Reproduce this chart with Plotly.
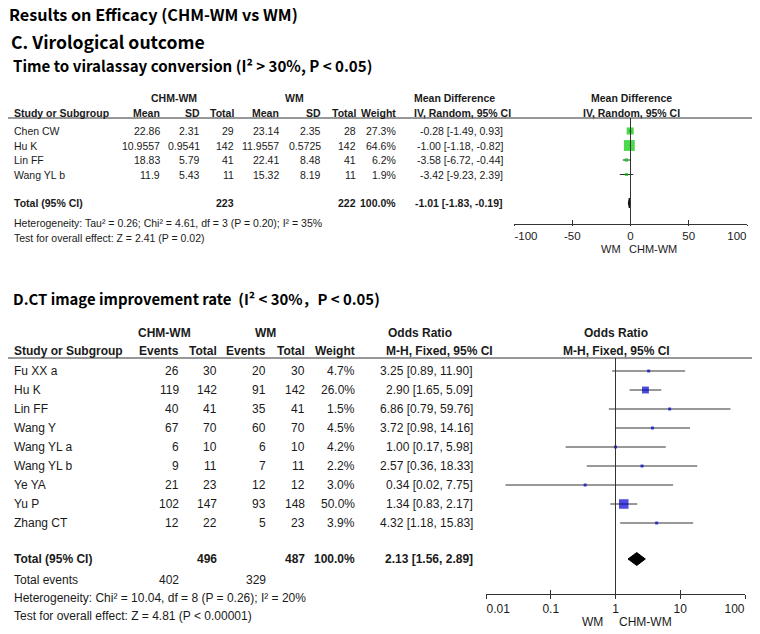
import plotly.graph_objects as go
import math

W, H = 760, 634
OFF = 8  # page body margin offset: the figure is drawn 8px right/down inside the window

# ---------------- Panel C data (Mean Difference) ----------------
c_studies = ["Chen CW", "Hu K", "Lin FF", "Wang YL b"]
c_mean_t = [22.86, 10.9557, 18.83, 11.9]
c_sd_t = [2.31, 0.9541, 5.79, 5.43]
c_n_t = [29, 142, 41, 11]
c_mean_c = [23.14, 11.9557, 22.41, 15.32]
c_sd_c = [2.35, 0.5725, 8.48, 8.19]
c_n_c = [28, 142, 41, 11]
c_weight = [27.3, 64.6, 6.2, 1.9]
c_md = [-0.28, -1.00, -3.58, -3.42]
c_lo = [-1.49, -1.18, -6.72, -9.23]
c_hi = [0.93, -0.82, -0.44, 2.39]
c_total = {"n_t": 223, "n_c": 222, "weight": 100.0, "est": -1.01, "lo": -1.83, "hi": -0.19}
c_hetero = "Heterogeneity: Tau² = 0.26; Chi² = 4.61, df = 3 (P = 0.20); I² = 35%"
c_test = "Test for overall effect: Z = 2.41 (P = 0.02)"
c_ticks = [-100, -50, 0, 50, 100]
c_ticktext = ["-100", "-50", "0", "50", "100"]

# ---------------- Panel D data (Odds Ratio) ----------------
d_studies = ["Fu XX a", "Hu K", "Lin FF", "Wang Y", "Wang YL a", "Wang YL b", "Ye YA", "Yu P", "Zhang CT"]
d_ev_t = [26, 119, 40, 67, 6, 9, 21, 102, 12]
d_n_t = [30, 142, 41, 70, 10, 11, 23, 147, 22]
d_ev_c = [20, 91, 35, 60, 6, 7, 12, 93, 5]
d_n_c = [30, 142, 41, 70, 10, 11, 12, 148, 23]
d_weight = [4.7, 26.0, 1.5, 4.5, 4.2, 2.2, 3.0, 50.0, 3.9]
d_or = [3.25, 2.90, 6.86, 3.72, 1.00, 2.57, 0.34, 1.34, 4.32]
d_lo = [0.89, 1.65, 0.79, 0.98, 0.17, 0.36, 0.02, 0.83, 1.18]
d_hi = [11.90, 5.09, 59.76, 14.16, 5.98, 18.33, 7.75, 2.17, 15.83]
d_total = {"n_t": 496, "n_c": 487, "weight": 100.0, "est": 2.13, "lo": 1.56, "hi": 2.89,
           "ev_t": 402, "ev_c": 329}
d_hetero = "Heterogeneity: Chi² = 10.04, df = 8 (P = 0.26); I² = 20%"
d_test = "Test for overall effect: Z = 4.81 (P < 0.00001)"
d_ticks = [0.01, 0.1, 1, 10, 100]
d_ticktext = ["0.01", "0.1", "1", "10", "100"]

# ---------------- styling ----------------
TITLE_FONT = "Noto Sans CJK SC"
C_FONT = "Liberation Sans, Arial"
D_FONT = "Liberation Sans, Arial"
TXT = "#1a1a1a"
LINE = "#333333"
GREEN = "#00C800"
BLUE = "#0000CC"

annotations = []


def txt(x, y, s, anchor="left", size=12, bold=False, family=D_FONT, color=TXT, pad=1):
    annotations.append(dict(
        x=x, y=y, xref="x", yref="y", text=("<b>%s</b>" % s) if bold else s,
        showarrow=False, xanchor=anchor, yanchor="middle", borderpad=pad,
        font=dict(family=family, size=size, color=color)))


def dom_x(a, b):
    return [(a - OFF) / W, (b - OFF) / W]


def dom_y(top, bottom):
    return [1 - (bottom - OFF) / H, 1 - (top - OFF) / H]


# titles
TF = dict(bold=True, family=TITLE_FONT, color="#000")
txt(8, 13.5, "Results on Efficacy (CHM-WM vs WM)", size=16.2, pad=0, **TF)
txt(9, 41, "C. Virological outcome", size=17.6, **TF)
txt(11, 64.5, "Time to viralassay conversion (I² > 30%, P < 0.05)", size=15.1, **TF)
txt(11, 298.5, "D.CT image improvement rate  (I² < 30%，P < 0.05)", size=14.9, **TF)

# ---------- Panel C table ----------
CF = dict(family=C_FONT, size=10.5)
c_cols = [162, 202, 236, 281, 323, 358, 398]
txt(174, 98, "CHM-WM", "center", bold=True, **CF)
txt(294, 98, "WM", "center", bold=True, **CF)
txt(412, 98, "Mean Difference", "left", bold=True, **CF)
txt(631, 98, "Mean Difference", "center", bold=True, **CF)
for x, s, a in [(12, "Study or Subgroup", "left"), (162, "Mean", "right"), (202, "SD", "right"),
                (236, "Total", "right"), (281, "Mean", "right"), (323, "SD", "right"),
                (358, "Total", "right"), (398, "Weight", "right"), (412, "IV, Random, 95% CI", "left"),
                (631, "IV, Random, 95% CI", "center")]:
    txt(x, 113, s, a, bold=True, **CF)

c_row_y = [131 + 14.5 * i for i in range(len(c_studies))]
c_tot_y = 203
for i, name in enumerate(c_studies):
    y = c_row_y[i]
    txt(12, y, name, **CF)
    vals = [str(c_mean_t[i]), str(c_sd_t[i]), str(c_n_t[i]), str(c_mean_c[i]), str(c_sd_c[i]),
            str(c_n_c[i]), "%.1f%%" % c_weight[i]]
    for x, v in zip(c_cols, vals):
        txt(x, y, v, "right", **CF)
    txt(505, y, "%.2f [%.2f, %.2f]" % (c_md[i], c_lo[i], c_hi[i]), "right", **CF)
txt(12, c_tot_y, "Total (95% CI)", bold=True, **CF)
txt(236, c_tot_y, str(c_total["n_t"]), "right", bold=True, **CF)
txt(358, c_tot_y, str(c_total["n_c"]), "right", bold=True, **CF)
txt(398, c_tot_y, "%.1f%%" % c_total["weight"], "right", bold=True, **CF)
txt(505, c_tot_y, "%.2f [%.2f, %.2f]" % (c_total["est"], c_total["lo"], c_total["hi"]), "right",
    bold=True, **CF)
txt(12, 222.5, c_hetero, **CF)
txt(12, 238, c_test, **CF)
txt(622, 248.5, "WM", "right", family=C_FONT, size=11, pad=0)
txt(628, 248.5, "CHM-WM", "left", family=C_FONT, size=11, pad=0)

# ---------- Panel D table ----------
DF = dict(family=D_FONT, size=12)
d_cols = [181, 219, 268, 307, 357]
txt(164, 332.5, "CHM-WM", "center", bold=True, **DF)
txt(265, 332.5, "WM", "center", bold=True, **DF)
txt(386, 332.5, "Odds Ratio", "left", bold=True, **DF)
txt(616, 332.5, "Odds Ratio", "center", bold=True, **DF)
for x, s, a in [(12, "Study or Subgroup", "left"), (181, "Events", "right"), (219, "Total", "right"),
                (268, "Events", "right"), (307, "Total", "right"), (357, "Weight", "right"),
                (384, "M-H, Fixed, 95% CI", "left"), (616, "M-H, Fixed, 95% CI", "center")]:
    txt(x, 351, s, a, bold=True, **DF)

d_row_y = [371 + 19 * i for i in range(len(d_studies))]
d_tot_y = 559
for i, name in enumerate(d_studies):
    y = d_row_y[i]
    txt(12, y, name, **DF)
    vals = [str(d_ev_t[i]), str(d_n_t[i]), str(d_ev_c[i]), str(d_n_c[i]), "%.1f%%" % d_weight[i]]
    for x, v in zip(d_cols, vals):
        txt(x, y, v, "right", **DF)
    txt(475, y, "%.2f [%.2f, %.2f]" % (d_or[i], d_lo[i], d_hi[i]), "right", **DF)
txt(12, d_tot_y, "Total (95% CI)", bold=True, **DF)
txt(219, d_tot_y, str(d_total["n_t"]), "right", bold=True, **DF)
txt(307, d_tot_y, str(d_total["n_c"]), "right", bold=True, **DF)
txt(357, d_tot_y, "%.1f%%" % d_total["weight"], "right", bold=True, **DF)
txt(475, d_tot_y, "%.2f [%.2f, %.2f]" % (d_total["est"], d_total["lo"], d_total["hi"]), "right",
    bold=True, **DF)
txt(12, 579.5, "Total events", **DF)
txt(181, 579.5, str(d_total["ev_t"]), "right", **DF)
txt(268, 579.5, str(d_total["ev_c"]), "right", **DF)
txt(12, 597.5, d_hetero, **DF)
txt(12, 616, d_test, **DF)
txt(605, 622, "WM", "right", **DF)
txt(617, 622, "CHM-WM", "left", **DF)

# ---------------- forest traces ----------------
fig = go.Figure()


def sq_size(w):
    return max(3.0, 1.35 * math.sqrt(w))


def placeholder(xa, ya, x, y):
    fig.add_trace(go.Scatter(x=[x], y=[y], mode="markers", marker=dict(opacity=0),
                             xaxis=xa, yaxis=ya, hoverinfo="skip"))


# Panel C
cx, cy = [], []
for i in range(len(c_studies)):
    cx += [c_lo[i], c_hi[i], None]
    cy += [c_row_y[i], c_row_y[i], None]
fig.add_trace(go.Scatter(x=cx, y=cy, mode="lines", line=dict(color=LINE, width=1),
                         xaxis="x2", yaxis="y2", hoverinfo="skip"))
fig.add_trace(go.Scatter(x=c_md, y=c_row_y, mode="markers",
                         marker=dict(symbol="square", color=GREEN, size=[sq_size(w) for w in c_weight],
                                     line=dict(width=0)),
                         xaxis="x2", yaxis="y2"))
hh = 5
fig.add_trace(go.Scatter(x=[c_total["lo"], c_total["est"], c_total["hi"], c_total["est"], c_total["lo"]],
                         y=[c_tot_y, c_tot_y - hh, c_tot_y, c_tot_y + hh, c_tot_y],
                         mode="lines", fill="toself", fillcolor="#111", line=dict(color="#111", width=1),
                         xaxis="x2", yaxis="y2"))
for xa in ["x4", "x6", "x7"]:
    placeholder(xa, "y2", 0, c_tot_y)

# Panel D
dx, dy = [], []
for i in range(len(d_studies)):
    dx += [d_lo[i], d_hi[i], None]
    dy += [d_row_y[i], d_row_y[i], None]
fig.add_trace(go.Scatter(x=dx, y=dy, mode="lines", line=dict(color=LINE, width=1),
                         xaxis="x3", yaxis="y3", hoverinfo="skip"))
fig.add_trace(go.Scatter(x=d_or, y=d_row_y, mode="markers",
                         marker=dict(symbol="square", color=BLUE, size=[sq_size(w) for w in d_weight],
                                     line=dict(width=0)),
                         xaxis="x3", yaxis="y3"))
hh = 6.5
fig.add_trace(go.Scatter(x=[d_total["lo"], d_total["est"], d_total["hi"], d_total["est"], d_total["lo"]],
                         y=[d_tot_y, d_tot_y - hh, d_tot_y, d_tot_y + hh, d_tot_y],
                         mode="lines", fill="toself", fillcolor="#000", line=dict(color="#000", width=1),
                         xaxis="x3", yaxis="y3"))
for xa in ["x5", "x8", "x9"]:
    placeholder(xa, "y3", 1, d_tot_y)
# base pixel-frame axis placeholder
placeholder("x", "y", OFF, OFF)

# ---------------- layout ----------------
c_ax_y, c_top_y = 224, 118
d_ax_y, d_top_y = 594, 358
c_x0, c_x1 = 514, 747
d_x0, d_x1 = 486, 745
axfont_c = dict(family="Liberation Sans, Arial", size=11.5, color=TXT)
axfont_d = dict(family="Liberation Sans, Arial", size=12, color=TXT)

common_x = dict(showgrid=False, zeroline=False, fixedrange=True, automargin=False)
c_common = dict(domain=dom_x(c_x0, c_x1), range=[-100, 100], anchor="y2", **common_x)
d_common = dict(type="log", domain=dom_x(d_x0, d_x1), range=[-2, 2], anchor="y3", **common_x)
C_TL, D_TL = 1, 4
hidden_tick = "rgba(0,0,0,0)"


def mid_labels(labels):
    return [""] + list(labels[1:-1]) + [""]


fig.update_layout(
    width=W, height=H, autosize=False,
    margin=dict(l=0, r=0, t=0, b=0, pad=0, autoexpand=False),
    paper_bgcolor="white", plot_bgcolor="rgba(0,0,0,0)", showlegend=False,
    xaxis=dict(range=[OFF, W + OFF], domain=[0, 1], visible=False, fixedrange=True, automargin=False),
    yaxis=dict(range=[H + OFF, OFF], domain=[0, 1], visible=False, fixedrange=True, automargin=False),
    # Panel C axis: line, outside ticks, middle labels
    xaxis2=dict(tickvals=c_ticks, ticktext=mid_labels(c_ticktext), ticks="outside", ticklen=C_TL,
                tickcolor=LINE, showline=True, linecolor=LINE, linewidth=1, tickfont=axfont_c,
                **c_common),
    yaxis2=dict(domain=dom_y(c_top_y, c_ax_y), range=[c_ax_y, c_top_y], visible=False,
                fixedrange=True, automargin=False),
    xaxis4=dict(overlaying="x2", tickvals=c_ticks, ticks="inside", ticklen=4, tickcolor=LINE,
                showticklabels=False, showline=False, **c_common),
    xaxis6=dict(overlaying="x2", tickvals=c_ticks[:1], ticktext=c_ticktext[:1], ticks="outside",
                ticklen=C_TL, tickcolor=hidden_tick, ticklabelposition="outside right",
                ticklabelstandoff=C_TL, showline=False, tickfont=axfont_c, **c_common),
    xaxis7=dict(overlaying="x2", tickvals=c_ticks[-1:], ticktext=c_ticktext[-1:], ticks="outside",
                ticklen=C_TL, tickcolor=hidden_tick, ticklabelposition="outside left",
                ticklabelstandoff=C_TL, showline=False, tickfont=axfont_c, **c_common),
    # Panel D axis
    xaxis3=dict(tickvals=d_ticks, ticktext=mid_labels(d_ticktext), ticks="outside", ticklen=D_TL,
                tickcolor=LINE, showline=True, linecolor=LINE, linewidth=1, tickfont=axfont_d,
                **d_common),
    yaxis3=dict(domain=dom_y(d_top_y, d_ax_y), range=[d_ax_y, d_top_y], visible=False,
                fixedrange=True, automargin=False),
    xaxis5=dict(overlaying="x3", tickvals=d_ticks, ticks="inside", ticklen=4, tickcolor=LINE,
                showticklabels=False, showline=False, **d_common),
    xaxis8=dict(overlaying="x3", tickvals=d_ticks[:1], ticktext=d_ticktext[:1], ticks="outside",
                ticklen=D_TL, tickcolor=hidden_tick, ticklabelposition="outside right",
                ticklabelstandoff=D_TL, showline=False, tickfont=axfont_d, **d_common),
    xaxis9=dict(overlaying="x3", tickvals=d_ticks[-1:], ticktext=d_ticktext[-1:], ticks="outside",
                ticklen=D_TL, tickcolor=hidden_tick, ticklabelposition="outside left",
                ticklabelstandoff=D_TL, showline=False, tickfont=axfont_d, **d_common),
    annotations=annotations,
    shapes=[
        dict(type="line", xref="x", yref="y", x0=5, x1=757, y0=c_top_y, y1=c_top_y,
             line=dict(color=LINE, width=1)),
        dict(type="line", xref="x", yref="y", x0=5, x1=757, y0=d_top_y, y1=d_top_y,
             line=dict(color=LINE, width=1)),
        dict(type="line", xref="x2", yref="y2", x0=0, x1=0, y0=c_ax_y, y1=c_top_y,
             line=dict(color=LINE, width=1)),
        dict(type="line", xref="x3", yref="y3", x0=1, x1=1, y0=d_ax_y, y1=d_top_y,
             line=dict(color=LINE, width=1)),
    ],
)

fig.write_html("out.html")
